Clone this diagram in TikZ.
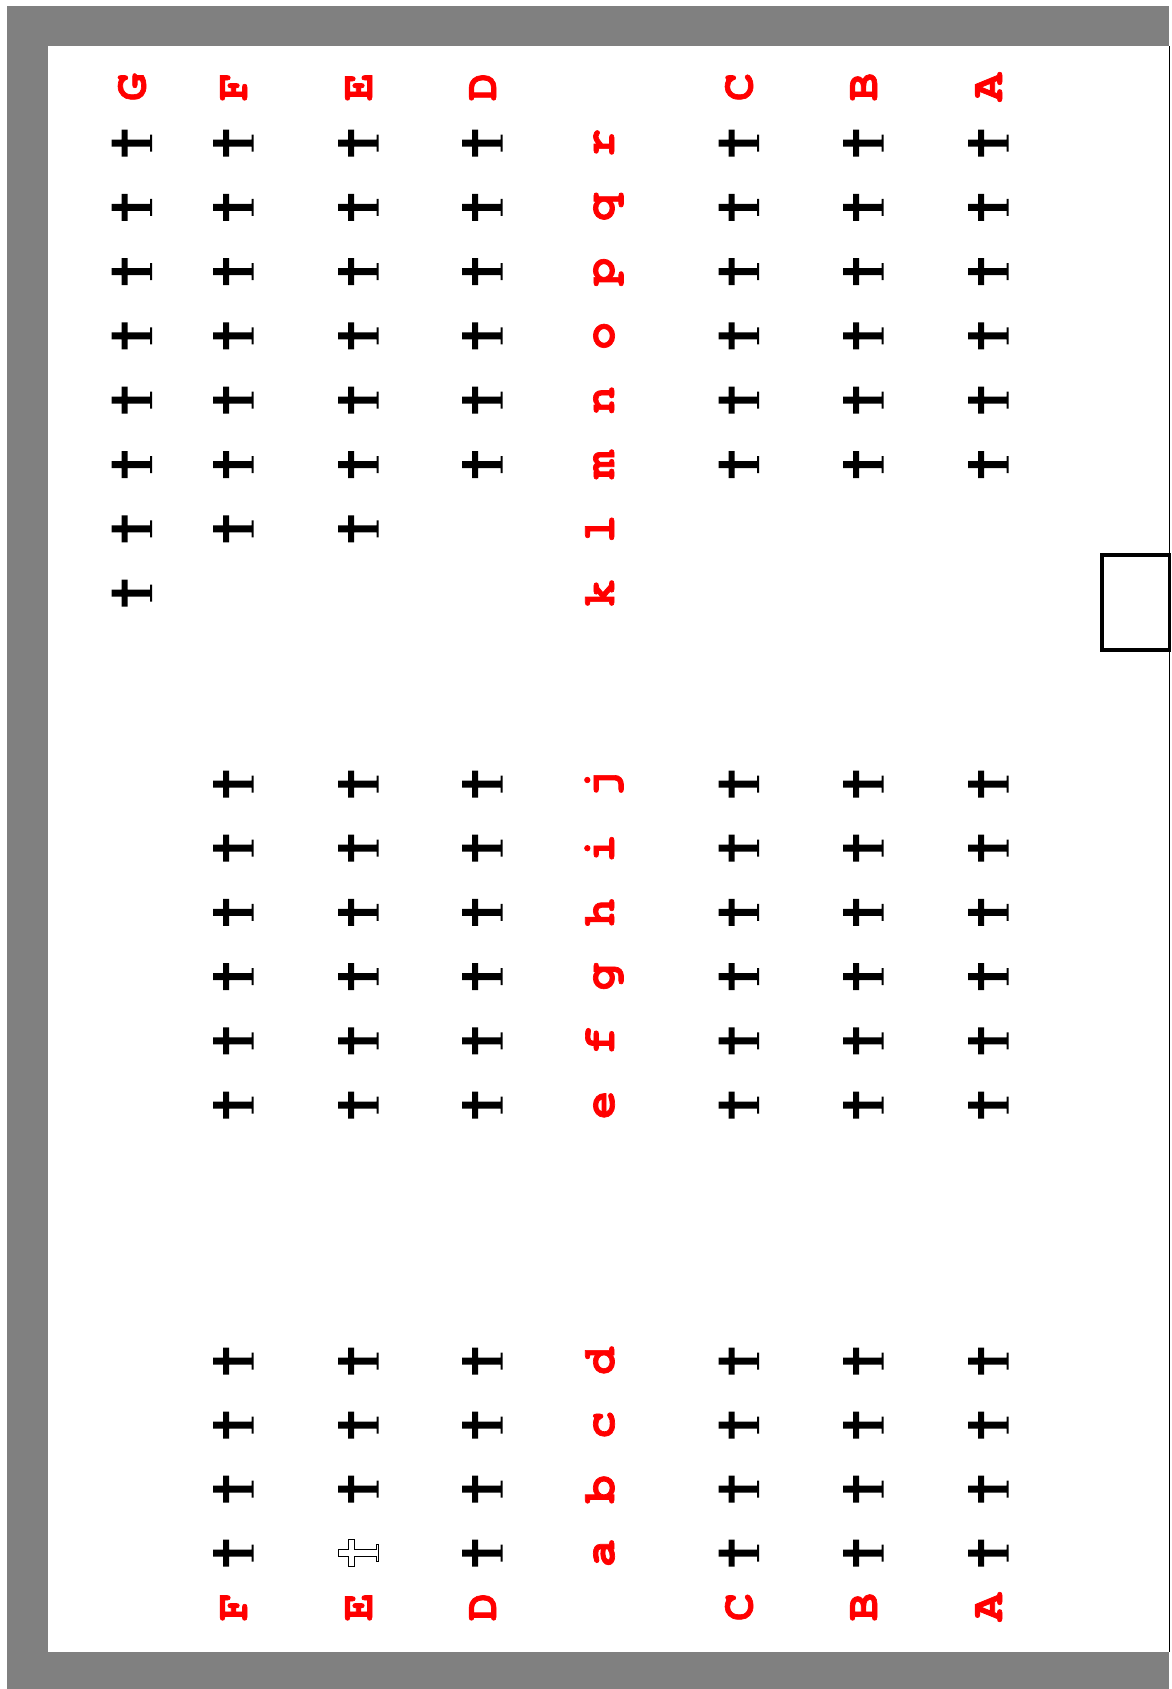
\documentclass[tikz,border=0pt]{standalone}
\usepackage{fontspec}
\newfontfamily\lblfont{TeX Gyre Cursor}[BoldFeatures={FakeBold=1.5}]
\usepackage{tikz}
\newcommand{\seatshape}{(-20,-3.5) -- (-10,-3.5) -- (-10,-13.5) -- (-4,-13.5) -- (-4,-3.5) -- (18.5,-3.5) -- (18.5,-8.5) -- (20.5,-8.5) -- (20.5,8.5) -- (18.5,8.5) -- (18.5,3.5) -- (-4,3.5) -- (-4,13.5) -- (-10,13.5) -- (-10,3.5) -- (-20,3.5) -- cycle}
\tikzset{
  lbl/.style={text=red, font=\lblfont\bfseries\fontsize{46}{46}\selectfont, rotate=90, anchor=base, inner sep=0pt},
  wall/.style={fill=black!50},
  door/.style={draw, line width=3.5pt, minimum width=67.5pt, minimum height=95pt, inner sep=0pt},
  seat/.pic={\fill \seatshape;},
  freeseat/.pic={\draw[fill=white, line width=1pt] \seatshape;},
}
\begin{document}
\begin{tikzpicture}[x=1pt, y=-1pt]
  \useasboundingbox (0,0) rectangle (1171,1689);
  % cabin wall
  \fill[wall] (7,6) rectangle (1169,46);
  \fill[wall] (7,6) rectangle (48,1689);
  \fill[wall] (7,1652) rectangle (1169,1689);
  \coordinate (w1) at (1169.5,46);
  \coordinate (w2) at (1169.5,1652);
  \draw (w1) -- (w2);
  \node[door] (exit) at (1135.75,602.5) {};
  % seat letters
  \foreach \c/\x in {G/131.5, F/233, E/358, D/482, C/738.5, B/863, A/988}
    \node[lbl] (top\c) at (\x+14,87) {\c};
  \foreach \c/\x in {F/233, E/358, D/482, C/738.5, B/863, A/988}
    \node[lbl] (bot\c) at (\x+14,1607) {\c};
  % row letters
  \foreach \r [count=\i from 0] in {r,q,p,o,n,m,l,k}
    \node[lbl] (row\r) at (614,143+64.3*\i) {\r};
  \foreach \r [count=\i from 0] in {j,i,h,g,f,e}
    \node[lbl] (row\r) at (614,784+64.2*\i) {\r};
  \foreach \r [count=\i from 0] in {d,c,b,a}
    \node[lbl] (row\r) at (614,1361+64*\i) {\r};
  % front section
  \foreach \c/\x/\n in {G/131.5/8, F/233/7, E/358/7, D/482/6, C/738.5/6, B/863/6, A/988/6}
    \foreach \i in {1,...,\n}
      \pic (f\c\i) at (\x,143+64.3*\i-64.3) {seat};
  % middle section
  \foreach \c/\x in {F/233, E/358, D/482, C/738.5, B/863, A/988}
    \foreach \i in {0,...,5}
      \pic (m\c\i) at (\x,784+64.2*\i) {seat};
  % rear section
  \foreach \c/\x in {F/233, D/482, C/738.5, B/863, A/988}
    \foreach \i in {0,...,3}
      \pic (r\c\i) at (\x,1361+64*\i) {seat};
  \foreach \i in {0,...,2}
    \pic (rE\i) at (358,1361+64*\i) {seat};
  \pic (rE3) at (358,1553) {freeseat};
\end{tikzpicture}
\end{document}
